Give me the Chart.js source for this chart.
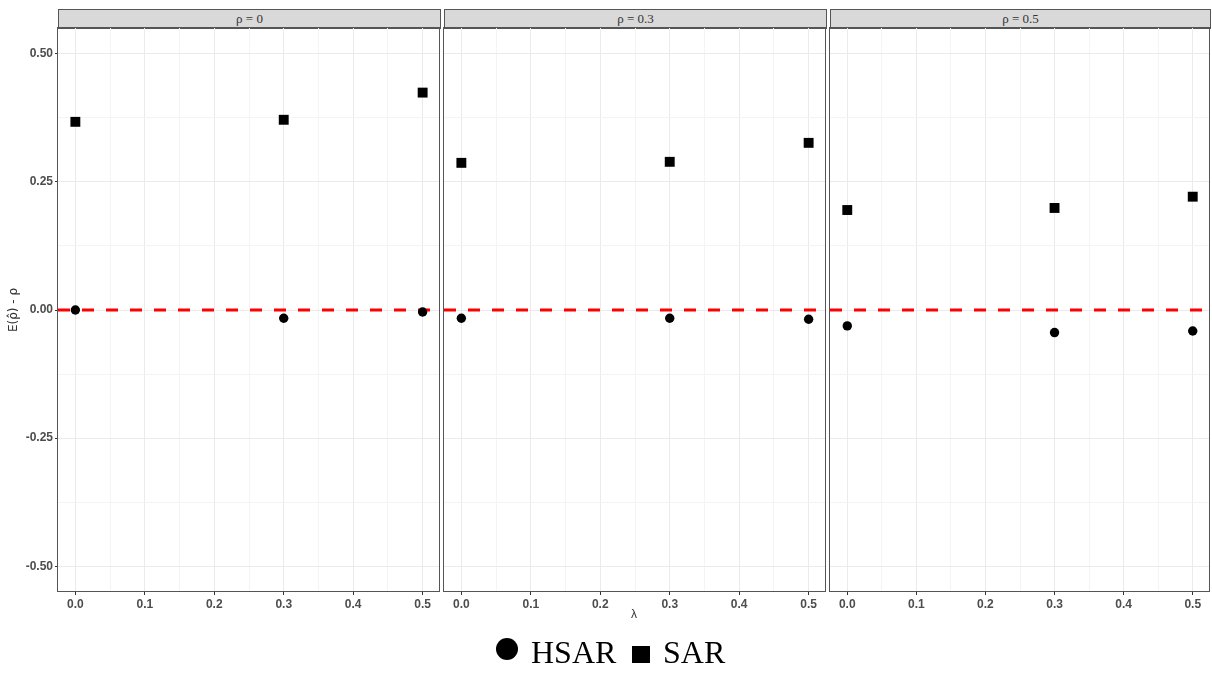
<!DOCTYPE html>
<html>
<head>
<meta charset="utf-8">
<script src="https://cdn.jsdelivr.net/npm/chart.js@4.4.1/dist/chart.umd.min.js"></script>
<style>
  body { margin: 0; background: #fff; width: 1212px; height: 673px; position: relative; overflow: hidden; }
  canvas { position: absolute; }
  .strip { position: absolute; top: 9px; height: 20px; box-sizing: border-box; background: #D9D9D9; border: 1px solid #555;
    font-family: "Liberation Serif", serif; font-size: 13px; color: #333; text-align: center; line-height: 18px; }
  .lbl { position: absolute; font-family: "Liberation Serif", serif; font-size: 32px; line-height: 32px; color: #000; }
</style>
</head>
<body>
<div class="strip" style="left:58px;width:383px;">ρ = 0</div>
<div class="strip" style="left:444px;width:383px;">ρ = 0.3</div>
<div class="strip" style="left:830px;width:381px;">ρ = 0.5</div>
<canvas id="p1" width="441" height="620" style="left:0px;top:27px;"></canvas>
<canvas id="p2" width="384" height="620" style="left:443px;top:27px;"></canvas>
<canvas id="p3" width="382" height="620" style="left:829px;top:27px;"></canvas>
<div style="position:absolute;left:614px;top:607px;width:40px;text-align:center;font:12px 'Liberation Sans',sans-serif;color:#333;">λ</div>
<div style="position:absolute;left:496px;top:638px;width:22px;height:22px;border-radius:50%;background:#000;"></div>
<div class="lbl" style="left:531px;top:636px;">HSAR</div>
<div style="position:absolute;left:632px;top:646px;width:18px;height:17px;background:#000;"></div>
<div class="lbl" style="left:663px;top:636px;">SAR</div>
<script>
const lambdaVals = [0, 0.3, 0.5]
const panelLabels = ["ρ = 0", "ρ = 0.3", "ρ = 0.5"]
const hsarRho0 = [0.0, -0.016, -0.004]
const sarRho0 = [0.367, 0.371, 0.424]
const hsarRho03 = [-0.016, -0.016, -0.018]
const sarRho03 = [0.287, 0.289, 0.326]
const hsarRho05 = [-0.031, -0.044, -0.041]
const sarRho05 = [0.195, 0.199, 0.221]
const xTicks = [0, 0.05, 0.1, 0.15, 0.2, 0.25, 0.3, 0.35, 0.4, 0.45, 0.5]
const yTicks = [-0.5, -0.375, -0.25, -0.125, 0, 0.125, 0.25, 0.375, 0.5]
const refLine = 0

const tickFont = { family: "Liberation Sans", size: 12, weight: "bold" }
const isMajorX = (v) => Math.abs(v * 10 - Math.round(v * 10)) < 1e-6
const isMajorY = (v) => Math.abs(v * 4 - Math.round(v * 4)) < 1e-6

const noPad = (scale) => {
  scale.paddingLeft = 0
  scale.paddingRight = 0
  scale.paddingTop = 0
  scale.paddingBottom = 0
}

const panelPlugin = {
  id: "panel",
  beforeDatasetsDraw(chart) {
    const { ctx, chartArea, scales } = chart
    const y = scales.y.getPixelForValue(refLine)
    ctx.save()
    ctx.beginPath()
    ctx.rect(chartArea.left, chartArea.top, chartArea.right - chartArea.left, chartArea.bottom - chartArea.top)
    ctx.clip()
    ctx.strokeStyle = "#FF0000"
    ctx.lineWidth = 3
    ctx.setLineDash([12, 12])
    ctx.beginPath()
    ctx.moveTo(chartArea.left, Math.round(y))
    ctx.lineTo(chartArea.right, Math.round(y))
    ctx.stroke()
    ctx.restore()
  },
  afterDatasetsDraw(chart) {
    const { ctx, chartArea } = chart
    ctx.save()
    ctx.strokeStyle = "#555"
    ctx.lineWidth = 1
    ctx.strokeRect(Math.round(chartArea.left) - 0.5, Math.round(chartArea.top) - 0.5,
      Math.round(chartArea.right - chartArea.left), Math.round(chartArea.bottom - chartArea.top))
    ctx.restore()
  },
}

function makePanel(id, hsar, sar, first) {
  new Chart(document.getElementById(id), {
    type: "scatter",
    data: {
      datasets: [
        {
          label: "HSAR",
          data: lambdaVals.map((x, i) => ({ x: x, y: hsar[i] })),
          pointStyle: "circle",
          pointRadius: 4.7,
          backgroundColor: "#000",
          borderWidth: 0,
        },
        {
          label: "SAR",
          data: lambdaVals.map((x, i) => ({ x: x, y: sar[i] })),
          pointStyle: "rect",
          pointRadius: 7,
          backgroundColor: "#000",
          borderWidth: 0,
        },
      ],
    },
    options: {
      responsive: false,
      animation: false,
      devicePixelRatio: 1,
      layout: { autoPadding: false, padding: { top: 1, right: 1, left: first ? 0 : 1, bottom: 0 } },
      plugins: { legend: { display: false }, tooltip: { enabled: false } },
      scales: {
        x: {
          type: "linear",
          min: -0.025,
          max: 0.525,
          afterBuildTicks: (scale) => { scale.ticks = xTicks.map((v) => ({ value: v })) },
          afterFit: (scale) => { scale.height = 55; noPad(scale) },
          border: { display: false },
          grid: {
            color: (c) => (isMajorX(c.tick.value) ? "#EBEBEB" : "#F4F4F4"),
            lineWidth: 1,
            tickLength: 3,
            tickColor: (c) => (isMajorX(c.tick.value) ? "#333" : "rgba(0,0,0,0)"),
          },
          ticks: {
            autoSkip: false,
            maxRotation: 0,
            padding: 2,
            color: "#4D4D4D",
            font: tickFont,
            callback: (v) => (isMajorX(v) ? v.toFixed(1) : ""),
          },
        },
        y: {
          type: "linear",
          min: -0.55,
          max: 0.55,
          afterBuildTicks: (scale) => { scale.ticks = yTicks.map((v) => ({ value: v })) },
          afterFit: (scale) => { scale.width = first ? 58 : 0; noPad(scale) },
          border: { display: false },
          title: {
            display: first,
            text: "E(\u03C1\u0302) - \u03C1",
            color: "#333",
            font: { family: "DejaVu Sans", size: 12 },
            padding: { top: 7, bottom: 0 },
          },
          grid: {
            color: (c) => (isMajorY(c.tick.value) ? "#EBEBEB" : "#F4F4F4"),
            lineWidth: 1,
            drawTicks: first,
            tickLength: 3,
            tickColor: (c) => (isMajorY(c.tick.value) ? "#333" : "rgba(0,0,0,0)"),
          },
          ticks: {
            display: first,
            autoSkip: false,
            padding: 2,
            color: "#4D4D4D",
            font: tickFont,
            callback: (v) => (isMajorY(v) ? v.toFixed(2) : ""),
          },
        },
      },
    },
    plugins: [panelPlugin],
  })
}

makePanel("p1", hsarRho0, sarRho0, true)
makePanel("p2", hsarRho03, sarRho03, false)
makePanel("p3", hsarRho05, sarRho05, false)
</script>
</body>
</html>
